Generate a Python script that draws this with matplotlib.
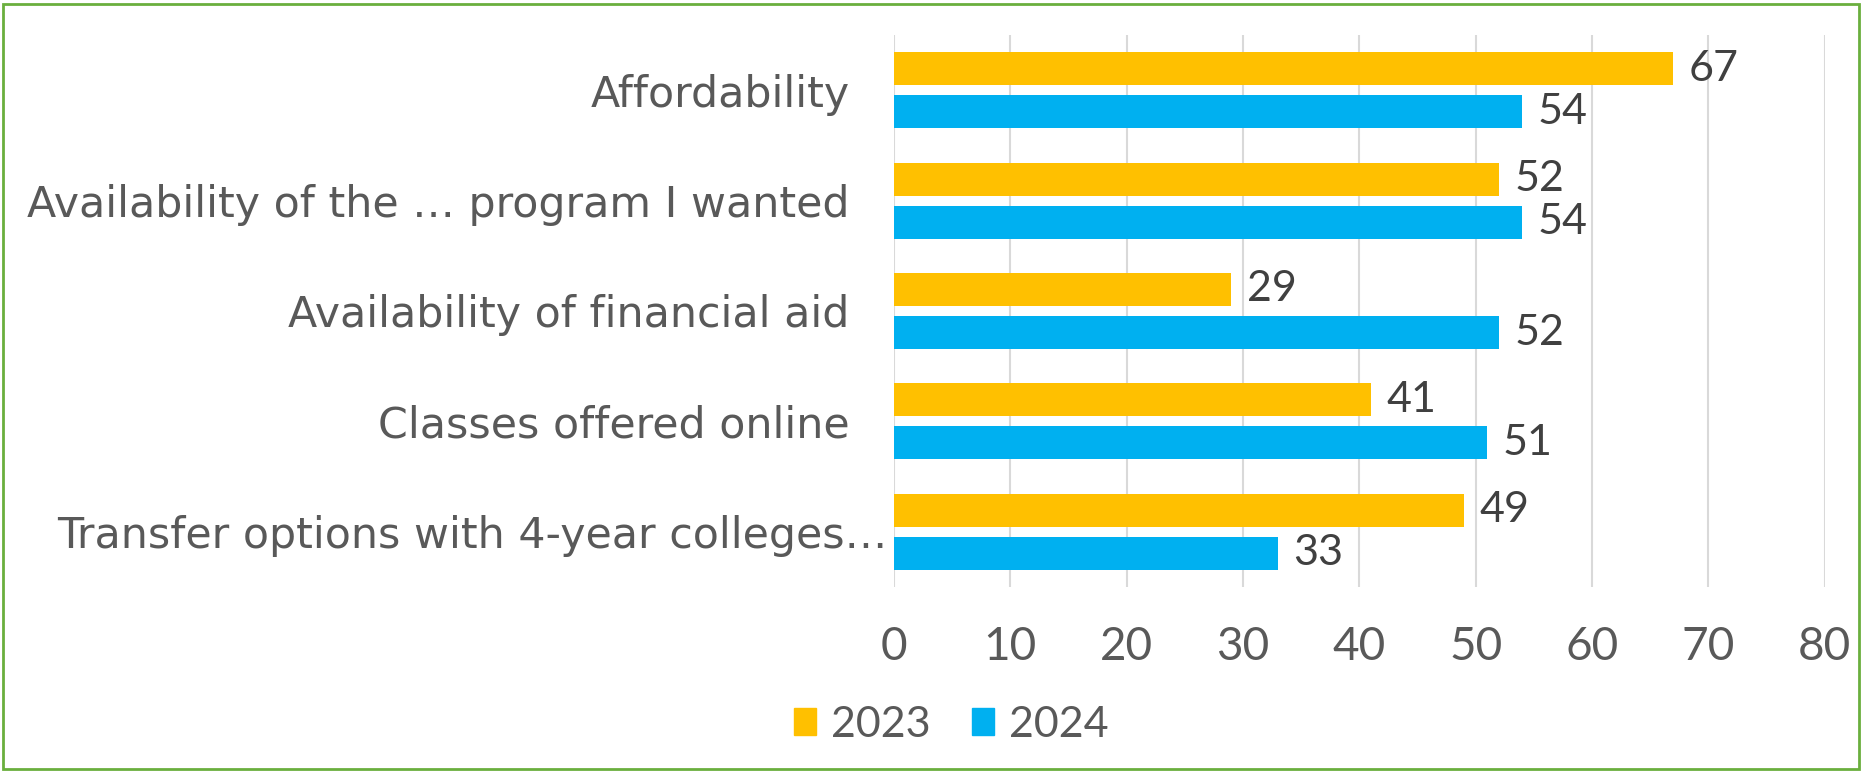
import matplotlib
matplotlib.use("Agg")
import matplotlib.pyplot as plt
import matplotlib.transforms as mtransforms
from matplotlib.patches import Rectangle, Patch
import numpy as np

categories = ["Affordability",
              "Availability of the \u2026 program I wanted",
              "Availability of financial aid",
              "Classes offered online",
              "Transfer options with 4-year colleges\u2026"]
values_2023 = [67, 52, 29, 41, 49]
values_2024 = [54, 54, 52, 51, 33]
series_names = ["2023", "2024"]
x_ticks = [0, 10, 20, 30, 40, 50, 60, 70, 80]

c2023 = "#FFC000"
c2024 = "#00B0F0"
text_c = "#595959"
font = "Lato"

plt.rcParams['font.family'] = [font, 'DejaVu Sans']

fig = plt.figure(figsize=(18.62, 7.71), dpi=100)
ax = fig.add_axes([0.480, 0.2387, 0.500, 0.7159])

y = np.arange(len(categories))
h = 0.30
off = 0.195
ax.barh(y - off, values_2023, height=h, color=c2023, label=series_names[0], zorder=3)
ax.barh(y + off, values_2024, height=h, color=c2024, label=series_names[1], zorder=3)

for yi, v in zip(y - off, values_2023):
    ax.annotate(str(v), (v, yi), xytext=(11, 0), textcoords="offset points",
                va="center", ha="left", fontsize=31, color="#404040")
for yi, v in zip(y + off, values_2024):
    ax.annotate(str(v), (v, yi), xytext=(11, 0), textcoords="offset points",
                va="center", ha="left", fontsize=31, color="#404040")

ax.set_xlim(0, 80)
ax.set_ylim(len(categories) - 0.5, -0.5)
ax.set_xticks(x_ticks)
ax.set_xticklabels([str(t) for t in x_ticks])
ax.set_yticks(y)
ax.set_yticklabels(categories, fontfamily=["DejaVu Sans"])
ax.tick_params(axis="x", length=0, pad=28, labelsize=33, labelcolor=text_c)
ax.tick_params(axis="y", length=0, pad=32, labelsize=30.8, labelcolor=text_c)
ax.grid(axis="x", color="#D9D9D9", linewidth=1.5, zorder=0)
for s in ax.spines.values():
    s.set_visible(False)

# the last (truncated) category label sits further right in the original
last = ax.get_yticklabels()[-1]
last.set_transform(last.get_transform() +
                   mtransforms.ScaledTranslation(0.38, 0, fig.dpi_scale_trans))

handles = [Patch(color=c2023, label=series_names[0]), Patch(color=c2024, label=series_names[1])]
fig.legend(handles=handles, loc="center", bbox_to_anchor=(0.511, 0.0597), ncol=2,
           frameon=False, fontsize=31, labelcolor=text_c,
           handlelength=0.52, handleheight=0.6, handletextpad=0.35, columnspacing=0.95)

fig.patches.append(Rectangle((0.0015, 0.003), 0.997, 0.992, transform=fig.transFigure,
                             fill=False, edgecolor="#6AAF3D", linewidth=2))

fig.savefig("out.png", dpi=100)
